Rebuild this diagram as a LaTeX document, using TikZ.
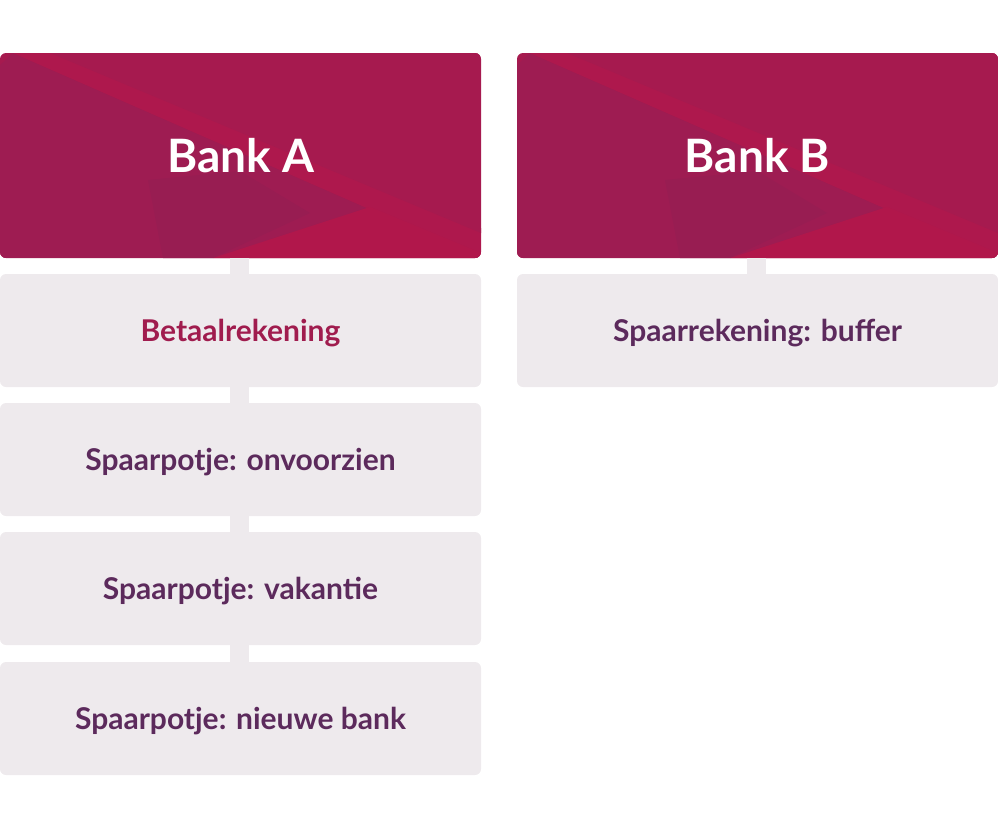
\documentclass[tikz,border=0pt]{standalone}
\usepackage{fontspec}
\setmainfont{Lato}
\definecolor{hdbase}{HTML}{A61A4F}
\definecolor{hddark}{HTML}{9E1C52}
\definecolor{hddarker}{HTML}{981D52}
\definecolor{hdlight}{HTML}{AE184D}
\definecolor{hdlighter}{HTML}{B1174B}
\definecolor{boxfill}{HTML}{EEEAED}
\definecolor{txtpurple}{HTML}{5C2A5C}
\definecolor{txtred}{HTML}{A01C4E}
\newcommand{\hdrdeco}[1]{%
  \begin{scope}[shift={(#1,53)}]
    \clip[rounded corners=6pt] (0,0) rectangle (481,205);
    \fill[hdbase] (0,0) rectangle (481,205);
    \fill[hddark] (0,12) -- (13,0) -- (481,205) -- (0,205) -- cycle;
    \fill[hdlight] (13,0) -- (80,0) -- (481,175) -- (481,205) -- cycle;
    \fill[hdbase] (50,0) -- (481,0) -- (481,180) -- cycle;
    \fill[hddarker] (148,127) -- (240,118) -- (310,160) -- (213,205) -- (163,205) -- cycle;
    \fill[hdlighter] (213,205) -- (370,154) -- (481,200) -- (481,205) -- cycle;
  \end{scope}}
\tikzset{
  header/.style={minimum width=481pt, minimum height=205pt,
    inner sep=0pt, text=white, font=\fontsize{46}{50}\selectfont\bfseries},
  acct/.style={rounded corners=6pt, fill=boxfill, minimum width=481pt, minimum height=113pt,
    inner sep=0pt, text height=21pt, text depth=0pt, text=txtpurple,
    font=\fontsize{30}{34}\selectfont\bfseries},
  conn/.style={draw=boxfill, line width=19pt}
}
\begin{document}
\begin{tikzpicture}[x=1pt, y=-1pt]
\useasboundingbox (0,0) rectangle (998,830);
\hdrdeco{0}
\hdrdeco{517}
\node[header] (bankA) at (240.5,155.5) {Bank A};
\node[header] (bankB) at (757.5,155.5) {Bank B};
\node[acct, text=txtred] (a1) at (240.5,330.5) {Betaalrekening};
\node[acct] (a2) at (240.5,459.5) {Spaarpotje: onvoorzien};
\node[acct] (a3) at (240.5,588.5) {Spaarpotje: vakantie};
\node[acct] (a4) at (240.5,718.5) {Spaarpotje: nieuwe bank};
\node[acct] (b1) at (757.5,330.5) {Spaarrekening: buffer};
\draw[conn] ([xshift=-1pt]bankA.south) -- ([xshift=-1pt]a1.north);
\draw[conn] ([xshift=-1pt]a1.south) -- ([xshift=-1pt]a2.north);
\draw[conn] ([xshift=-1pt]a2.south) -- ([xshift=-1pt]a3.north);
\draw[conn] ([xshift=-1pt]a3.south) -- ([xshift=-1pt]a4.north);
\draw[conn] ([xshift=-1pt]bankB.south) -- ([xshift=-1pt]b1.north);
\end{tikzpicture}
\end{document}
